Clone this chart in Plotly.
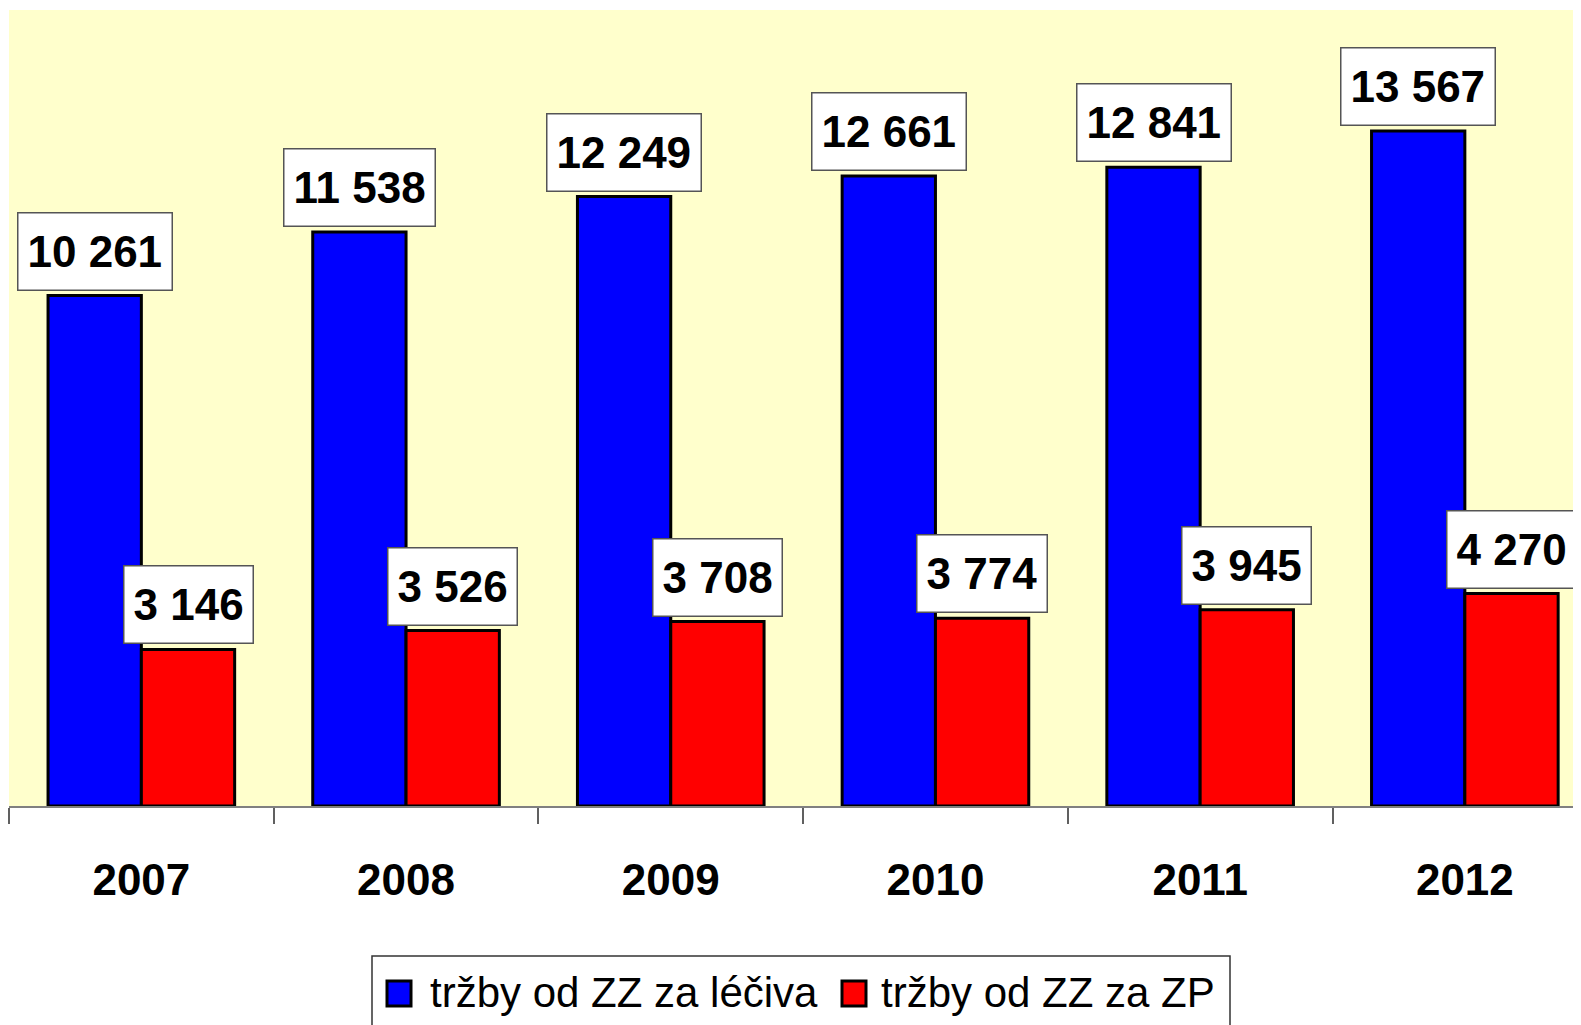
import plotly.graph_objects as go

years = ["2007", "2008", "2009", "2010", "2011", "2012"]
leciva = [10261, 11538, 12249, 12661, 12841, 13567]
zp = [3146, 3526, 3708, 3774, 3945, 4270]
name_leciva = "tržby od ZZ za léčiva"
name_zp = "tržby od ZZ za ZP"

FONT = "Liberation Sans, Arial, sans-serif"
BODY = 8  # default page margin around the figure
W_FIG, H_FIG = 1581, 1025
PLOT_L, PLOT_T, PLOT_R, PLOT_B = 9, 10, 1581, 806  # page pixels
ML = PLOT_L - BODY
MT = PLOT_T - BODY
PW = PLOT_R - PLOT_L
PH = PLOT_B - PLOT_T
MR = W_FIG - ML - PW
MB = H_FIG - MT - PH

def px_x(p):
    return (p - PLOT_L) / PW

def px_y(p):
    return (PLOT_B - p) / PH

def fmt(v):
    return f"{v:,}".replace(",", " ")

BARGAP = 0.295
off = (1 - BARGAP) / 4

fig = go.Figure()
fig.add_bar(x=years, y=leciva, name=name_leciva, showlegend=False,
            marker=dict(color="#0000FF", line=dict(color="black", width=3)))
fig.add_bar(x=years, y=zp, name=name_zp, showlegend=False,
            marker=dict(color="#FF0000", line=dict(color="black", width=3)))

label_style = dict(showarrow=False, yanchor="bottom", yshift=5, height=58,
                   bgcolor="white", bordercolor="#555555", borderwidth=1.5,
                   borderpad=9, font=dict(family=FONT, size=44, color="black", weight="bold"))
for i, v in enumerate(leciva):
    fig.add_annotation(x=i - off, y=v, text=fmt(v), **label_style)
for i, v in enumerate(zp):
    fig.add_annotation(x=i + off, y=v, text=fmt(v), **label_style)

# manual legend
leg_items = [(387, 428, "#0000FF", name_leciva), (842, 879, "#FF0000", name_zp)]
fig.add_shape(type="rect", xref="paper", yref="paper",
              x0=px_x(372), x1=px_x(1230), y0=px_y(1045), y1=px_y(956),
              line=dict(color="#333333", width=1.5), fillcolor="white", layer="below")
for sx, tx, col, nm in leg_items:
    fig.add_shape(type="rect", xref="paper", yref="paper",
                  x0=px_x(sx), x1=px_x(sx + 24), y0=px_y(1006), y1=px_y(981),
                  line=dict(color="black", width=3), fillcolor=col)
    fig.add_annotation(xref="paper", yref="paper", x=px_x(tx), y=px_y(992),
                       xanchor="left", yanchor="middle", showarrow=False, text=nm,
                       font=dict(family=FONT, size=42, color="black"))

fig.update_layout(
    template="none",
    width=W_FIG, height=H_FIG,
    margin=dict(l=ML, r=MR, t=MT, b=MB, pad=0, autoexpand=False),
    paper_bgcolor="white", plot_bgcolor="#FFFFCC",
    barmode="group", bargap=BARGAP, bargroupgap=0,
    showlegend=False,
    xaxis=dict(type="category", range=[-0.5, -0.5 + PW / 264.7], automargin=False,
               showline=True, linecolor="#808080", linewidth=2,
               ticks="outside", tickson="boundaries", ticklen=16,
               tickcolor="#606060", tickwidth=1.5, ticklabelstandoff=34,
               tickfont=dict(family=FONT, size=44, color="black", weight="bold"),
               showgrid=False, zeroline=False, fixedrange=True),
    yaxis=dict(range=[0, 16000], visible=False, showgrid=False, zeroline=False,
               automargin=False),
)

fig.write_html("out.html")
